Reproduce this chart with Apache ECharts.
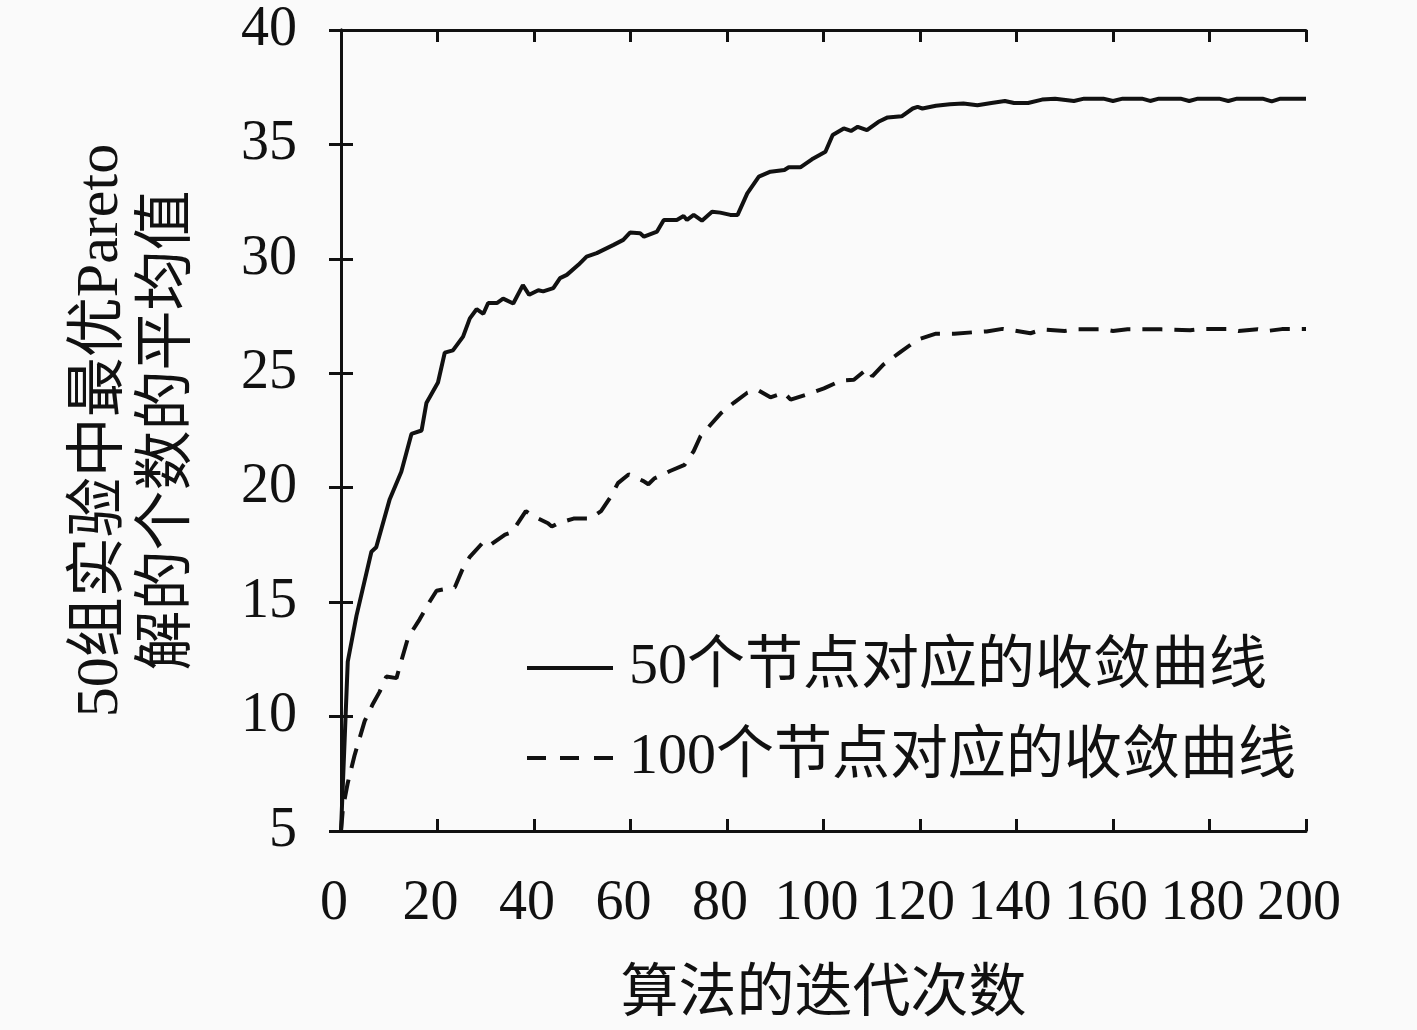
<!DOCTYPE html>
<html>
<head>
<meta charset="utf-8">
<script src="https://cdn.jsdelivr.net/npm/echarts@6/dist/echarts.min.js"></script>
<style>
html,body{margin:0;padding:0;background:#fafafa;}
#chart{width:1417px;height:1030px;}
</style>
</head>
<body>
<div id="chart"></div>
<script>
// ---- data ----
const seriesNames = ['50个节点对应的收敛曲线', '100个节点对应的收敛曲线'];
const xTicks = [0, 20, 40, 60, 80, 100, 120, 140, 160, 180, 200];
const yTicks = [5, 10, 15, 20, 25, 30, 35, 40];

// 50 nodes: [iteration, mean count]
const curve50 = [
  [0, 5.0], [0.7, 8.7], [1.4, 12.4], [3.2, 14.4], [6.3, 17.2], [7.3, 17.4],
  [10.1, 19.5], [12.5, 20.7], [14.6, 22.35], [16.7, 22.5], [17.7, 23.7],
  [20.1, 24.6], [21.5, 25.9], [23.2, 26.0], [25.3, 26.6], [26.7, 27.4],
  [28.1, 27.8], [29.5, 27.6], [30.5, 28.07], [32.3, 28.07], [33.6, 28.26],
  [35.7, 28.05], [37.7, 28.85], [39.0, 28.43], [40.9, 28.63], [41.9, 28.58],
  [44.0, 28.72], [45.4, 29.16], [46.8, 29.3], [49.2, 29.74], [50.9, 30.1],
  [53.0, 30.25], [56.5, 30.61], [58.5, 30.83], [59.9, 31.15], [62.0, 31.12],
  [62.8, 30.97], [65.5, 31.19], [66.9, 31.7], [69.6, 31.7], [71.0, 31.87],
  [71.7, 31.7], [73.1, 31.92], [74.8, 31.67], [76.9, 32.06], [78.6, 32.02],
  [80.7, 31.92], [82.2, 31.92], [84.2, 32.86], [86.6, 33.59], [89.0, 33.81],
  [91.9, 33.88], [92.8, 34.0], [95.2, 34.0], [97.6, 34.35], [100.4, 34.68],
  [101.9, 35.41], [104.2, 35.7], [105.7, 35.59], [107.1, 35.77], [109.0, 35.62],
  [111.4, 35.99], [113.3, 36.18], [116.2, 36.23], [118.5, 36.57], [119.5, 36.64],
  [120.5, 36.57], [123.3, 36.69], [126.2, 36.76], [129.0, 36.79], [131.9, 36.71],
  [134.8, 36.81], [137.6, 36.9], [139.5, 36.81], [142.4, 36.81], [145.3, 36.96],
  [148, 37.0], [151.9, 36.9], [154, 37.0], [158, 37.0], [160, 36.9], [162, 37.0],
  [166, 37.0], [167.7, 36.9], [169.5, 37.0], [174, 37.0], [175.8, 36.9],
  [177.6, 37.0], [182, 37.0], [183.9, 36.9], [185.7, 37.0], [191, 37.0],
  [192.9, 36.88], [194.7, 37.0], [200, 37.0]
];

// 100 nodes
const curve100 = [
  [0, 5.0], [0.4, 6.0], [1.4, 7.1], [2.8, 8.3], [4.9, 9.8], [6.6, 10.55],
  [8.0, 11.08], [9.4, 11.75], [11.5, 11.68], [12.5, 12.43], [13.9, 13.45],
  [16.3, 14.25], [18.4, 15.03], [19.8, 15.5], [23.6, 15.65], [25.1, 16.4],
  [26.7, 16.98], [29.3, 17.58], [30.5, 17.43], [34.0, 17.95], [35.4, 18.05],
  [38.3, 18.98], [39.8, 18.76], [42.9, 18.45], [43.7, 18.3], [45.0, 18.45],
  [48.2, 18.65], [51.6, 18.65], [53.9, 18.98], [55.9, 19.6], [57.4, 20.2],
  [59.6, 20.58], [62.7, 20.29], [63.7, 20.15], [64.9, 20.4], [68.2, 20.73],
  [71.2, 21.0], [73.1, 21.6], [74.5, 22.25], [76.6, 22.75], [78.7, 23.25],
  [81.4, 23.71], [84.2, 24.15], [86.3, 24.28], [89.0, 23.95], [91.8, 24.15],
  [93.2, 23.85], [96.9, 24.1], [100.1, 24.34], [103.6, 24.68], [106.3, 24.72],
  [109.1, 25.2], [110.1, 24.87], [112.4, 25.38], [115.7, 25.89], [119.5, 26.47],
  [123.3, 26.73], [127.1, 26.73], [130.9, 26.79], [133.8, 26.83], [137.1, 26.94],
  [139.5, 26.87], [142.9, 26.75], [145.3, 26.91], [150, 26.85], [152, 26.92],
  [158, 26.92], [160, 26.85], [163, 26.92], [170, 26.92], [176, 26.88],
  [178, 26.93], [184, 26.93], [186, 26.85], [190, 26.92], [192, 26.85],
  [195, 26.93], [200, 26.93]
];

// ---- chart ----
const FONT = "'Liberation Serif', 'Noto Sans CJK SC', serif";
const INK = '#111';
const chart = echarts.init(document.getElementById('chart'), null, {renderer: 'canvas'});

const baseAxisLine = {show: true, lineStyle: {color: INK, width: 3}};
const baseTick = {show: true, inside: true, length: 12, lineStyle: {color: INK, width: 3}};

chart.setOption({
  backgroundColor: '#fafafa',
  animation: false,
  grid: {left: 341, right: 111, top: 30, bottom: 198, containLabel: false},
  legend: {
    orient: 'vertical',
    left: 522,
    top: 634,
    itemWidth: 86,
    itemHeight: 4,
    itemGap: 32,
    selectedMode: false,
    textStyle: {fontSize: 58, fontFamily: FONT, color: INK, padding: [0, 0, 0, 11]},
    data: [
      {name: seriesNames[0], icon: 'path://M0,0H86V4H0Z', itemStyle: {color: INK}},
      {name: seriesNames[1], icon: 'path://M0,0H19V4H0Z M33,0H52V4H33Z M67,0H86V4H67Z', itemStyle: {color: INK}}
    ]
  },
  xAxis: [{
    type: 'value', position: 'bottom',
    min: xTicks[0], max: xTicks[xTicks.length - 1], interval: xTicks[1] - xTicks[0],
    name: '算法的迭代次数', nameLocation: 'middle', nameGap: 136,
    nameTextStyle: {fontSize: 58, fontFamily: FONT, color: INK},
    axisLine: baseAxisLine, axisTick: baseTick,
    axisLabel: {fontSize: 56, fontFamily: FONT, color: INK, margin: 45, padding: [0, 14, 0, 0]},
    splitLine: {show: false}
  }, {
    type: 'value', position: 'top',
    min: xTicks[0], max: xTicks[xTicks.length - 1], interval: xTicks[1] - xTicks[0],
    axisLine: baseAxisLine, axisTick: baseTick,
    axisLabel: {show: false}, splitLine: {show: false}
  }],
  yAxis: [{
    type: 'value', position: 'left',
    min: yTicks[0], max: yTicks[yTicks.length - 1], interval: yTicks[1] - yTicks[0],
    name: '50组实验中最优Pareto\n解的个数的平均值', nameLocation: 'middle', nameRotate: 90, nameGap: 138,
    nameTextStyle: {fontSize: 60, lineHeight: 68, fontFamily: FONT, color: INK},
    axisLine: baseAxisLine, axisTick: baseTick,
    axisLabel: {fontSize: 56, fontFamily: FONT, color: INK, margin: 44},
    splitLine: {show: false}
  }, {
    type: 'value', position: 'right',
    min: yTicks[0], max: yTicks[yTicks.length - 1], interval: yTicks[1] - yTicks[0],
    axisLine: baseAxisLine, axisTick: baseTick,
    axisLabel: {show: false}, splitLine: {show: false}
  }],
  series: [{
    name: seriesNames[0], type: 'line', data: curve50,
    showSymbol: false, symbol: 'none', smooth: false,
    lineStyle: {color: INK, width: 4, type: 'solid'},
    itemStyle: {color: INK},
    emphasis: {disabled: true}
  }, {
    name: seriesNames[1], type: 'line', data: curve100,
    showSymbol: false, symbol: 'none', smooth: false,
    lineStyle: {color: INK, width: 4, type: [20, 12]},
    itemStyle: {color: INK},
    emphasis: {disabled: true}
  }]
});
</script>
</body>
</html>
